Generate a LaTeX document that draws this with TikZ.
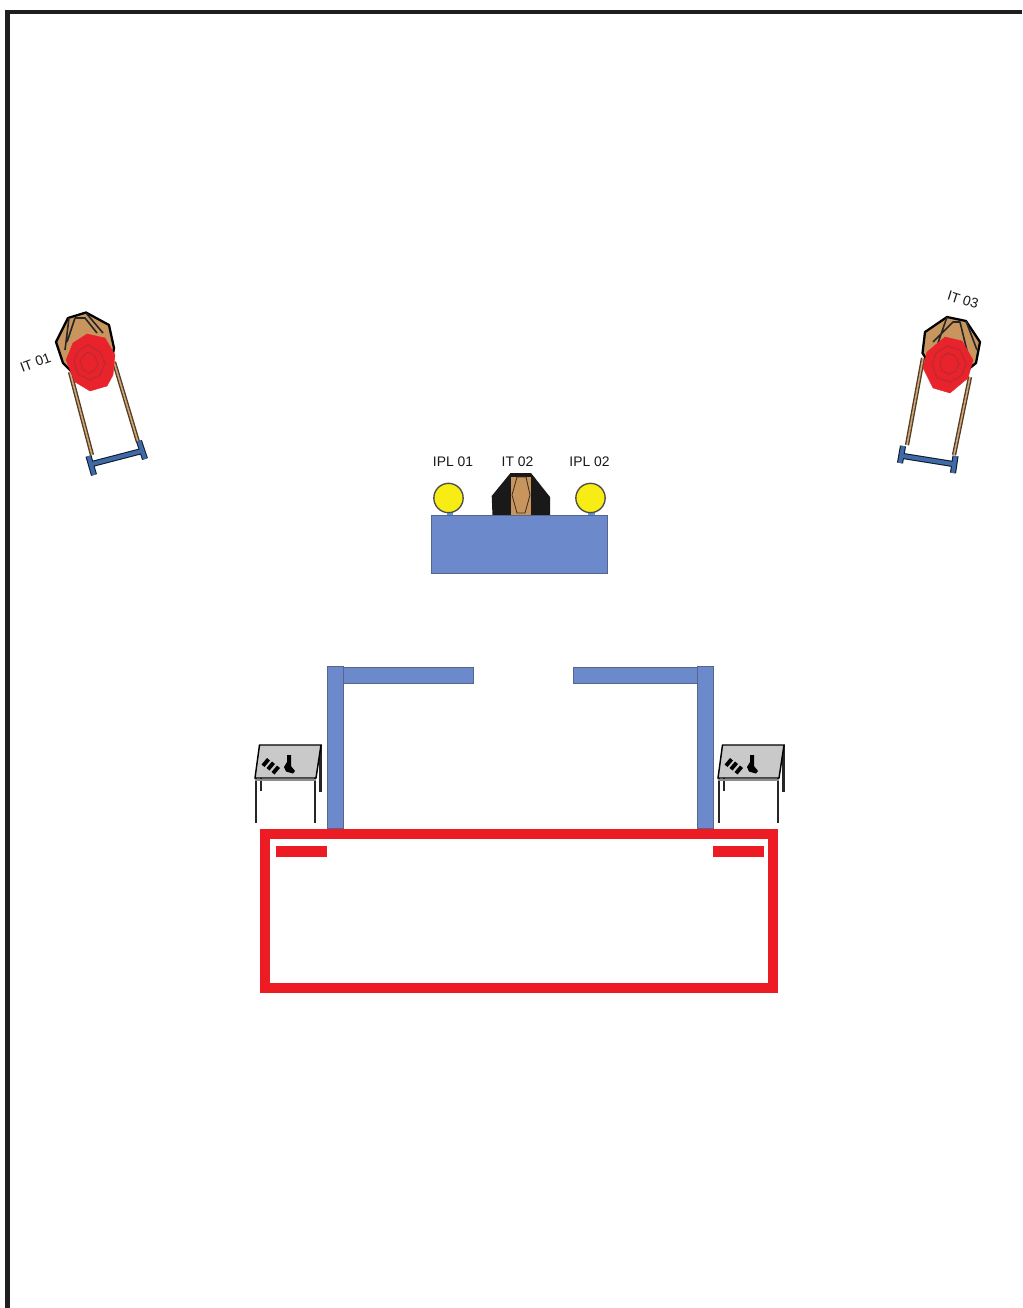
\documentclass[tikz,border=0pt]{standalone}
\usepackage{fontspec}
\setmainfont{Liberation Sans}
\definecolor{wallblue}{HTML}{6C8ACB}
\definecolor{wallline}{HTML}{56658A}
\definecolor{framered}{HTML}{ED1C24}
\definecolor{skin}{HTML}{C8955F}
\definecolor{targetred}{HTML}{E8232B}
\definecolor{ringred}{HTML}{B02A35}
\definecolor{barblue}{HTML}{3F6AA8}
\definecolor{tablegray}{HTML}{C9C9C9}
\definecolor{lampyellow}{HTML}{F7EC13}
\tikzset{
  wall/.style={fill=wallblue,draw=wallline,line width=0.7pt},
  frameline/.style={draw=framered,line width=7.5pt,miter limit=10},
  redbar/.style={fill=framered},
  head/.style={fill=skin,draw=black,line width=1.7pt,line join=round},
  headline/.style={draw=black!85,line width=1.2pt,line join=round},
  disc/.style={fill=targetred,draw=targetred,line width=0.3pt},
  ring/.style={draw=ringred,line width=1pt,dash pattern=on 1pt off 0.7pt},
  legouter/.style={draw=black!60!skin,line width=3.2pt},
  leginner/.style={draw=skin!85!white,line width=1.2pt},
  feet/.style={draw=black!75!barblue,line width=4.6pt},
  feetin/.style={draw=barblue,line width=3pt},
  tabletop/.style={fill=tablegray,draw=black,line width=1.1pt,line join=miter},
  tableleg/.style={draw=black!85,line width=1.7pt},
  lamp/.style={circle,fill=lampyellow,draw=black!70,line width=1pt,minimum size=22pt,inner sep=0pt},
  neck/.style={fill=wallblue!85!cyan,draw=none},
  lab/.style={font=\fontsize{10.4pt}{12pt}\selectfont,text=black!90,inner sep=0pt}
}
\begin{document}
\begin{tikzpicture}[x=0.75pt,y=-0.75pt]
\useasboundingbox (0,0) rectangle (1022,1308);
\fill[white] (0,0) rectangle (1022,1308);
% outer border
\draw[draw=black!88,line width=3.7pt,line cap=butt,line join=miter]
  (7.5,1308) -- (7.5,12) -- (1022,12);

% IT 01
\foreach \a/\b in {{(70,372)}/{(92,455)},{(114,362)}/{(138,442)}}{
  \draw[legouter] \a -- \b;
  \draw[leginner] \a -- \b;
}
\foreach \a/\b in {{(92,464)}/{(142,451)},{(88.5,456)}/{(94,475)},{(139,441)}/{(145,459)}}{
  \draw[feet] \a -- \b;
}
\foreach \a/\b in {{(92,464)}/{(142,451)},{(88.5,456)}/{(94,475)},{(139,441)}/{(145,459)}}{
  \draw[feetin] \a -- \b;
}
\draw[head] (86,312.5) -- (109,325) -- (114,348) -- (110,372) -- (72,372) -- (63,363) -- (56,342) -- (68,318) -- cycle;
\draw[headline] (69,318) -- (65,350) (75,318) -- (67,342) (75,318) -- (85,318) -- (97,333) (86,313) -- (103,333);
\fill[disc] (87,334) -- (105,338) -- (115,355) -- (113,375) -- (107,386) -- (90,391) -- (75,382) -- (66,360) -- (73,343) -- cycle;
\draw[ring] (88,345) -- (100,352) -- (105,363) -- (100,375) -- (90,380) -- (78,374) -- (74,362) -- (78,351) -- cycle;
\draw[ring] (88,352) -- (95,356) -- (98,364) -- (94,371) -- (89,373) -- (83,370) -- (80,362) -- (83,356) -- cycle;
\node[lab,rotate=20] (it01) at (35.5,362.5) {IT 01};

% IT 03
\foreach \a/\b in {{(923,358)}/{(907,445)},{(970,377)}/{(954,455)}}{
  \draw[legouter] \a -- \b;
  \draw[leginner] \a -- \b;
}
\foreach \a/\b in {{(903,456)}/{(953,464)},{(903,446)}/{(900,463)},{(955.5,456)}/{(953,473)}}{
  \draw[feet] \a -- \b;
}
\foreach \a/\b in {{(903,456)}/{(953,464)},{(903,446)}/{(900,463)},{(955.5,456)}/{(953,473)}}{
  \draw[feetin] \a -- \b;
}
\draw[head] (947,317) -- (966,321) -- (980,342) -- (976,363) -- (965,372) -- (930,365) -- (922.5,353) -- (925,332) -- cycle;
\draw[headline] (933,342) -- (953,322) -- (960,322) -- (968,355) (947,317) -- (938,343) (966,321) -- (977,350);
\fill[disc] (945,337) -- (962,341) -- (973,360) -- (968,378) -- (950,393) -- (933,388) -- (923,368) -- (927,352) -- cycle;
\draw[ring] (947,346) -- (960,350) -- (966,363) -- (962,375) -- (950,382) -- (937,378) -- (932,365) -- (936,353) -- cycle;
\draw[ring] (948,353) -- (955,356) -- (959,364) -- (956,371) -- (949,374) -- (942,371) -- (940,364) -- (942,357) -- cycle;
\node[lab,rotate=-17] (it03) at (963,300) {IT 03};

% central desk
\fill[neck] (447,511) rectangle (453,516);
\fill[neck] (588,511) rectangle (595,516);
\node[lamp] (ipl1) at (448.5,498) {};
\node[lamp] (ipl2) at (590.5,498) {};
\fill[black!90] (510.5,473) -- (531,473) -- (550,497) -- (550,516) -- (492.5,516) -- (491.7,496) -- cycle;
\fill[skin] (511,477) rectangle (531,516);
\draw[draw=black!70!skin,line width=0.6pt] (517,477) -- (526,477) -- (530,495) -- (525,513) -- (517,513) -- (512,495) -- cycle;
\node[wall,minimum width=132pt,minimum height=44pt,inner sep=0pt,anchor=north west] (desk) at (430.5,514.5) {};
\node[lab] (l1) at (453,461.5) {IPL 01};
\node[lab] (l2) at (517.5,461.5) {IT 02};
\node[lab] (l3) at (589.5,461.5) {IPL 02};

% walls
\draw[wall] (343.5,667) rectangle (473.5,683);
\draw[wall] (327.5,666) rectangle (343.5,828);
\draw[wall] (573.5,667) rectangle (697.5,683);
\draw[wall] (697.5,666) rectangle (713.5,828);

% red area
\draw[frameline] (264.5,834) rectangle (773,987.5);
\fill[redbar] (276,846) rectangle (327,857);
\fill[redbar] (713,846) rectangle (764,857);

% tables
\foreach \dx in {0,463}{
\begin{scope}[xshift=\dx*0.75pt]
  \draw[tableleg] (320.5,745) -- (320.5,792);
  \draw[tableleg] (261,778) -- (261,791);
  \draw[tableleg] (256,778) -- (256,823);
  \draw[tableleg] (315,778) -- (315,823);
  \draw[tabletop] (259.5,745) -- (321,745) -- (316,778) -- (255,778) -- cycle;
  \draw[draw=tablegray!70!black,line width=1pt] (255,780) -- (316,780);
  \fill[black] (267,758) -- (270,760.5) -- (264.5,767) -- (261.5,764.5) -- cycle;
  \fill[black] (272,761.5) -- (275,764) -- (269.5,770.5) -- (266.5,768) -- cycle;
  \fill[black] (277,765.5) -- (280,768) -- (274.5,774.5) -- (271.5,772) -- cycle;
  \fill[black] (287,755) -- (291,755) -- (291,766) -- (295,771) -- (293,773.5) -- (286,771.5) -- (284,767) -- (287,762) -- cycle;
\end{scope}}
\end{tikzpicture}
\end{document}
